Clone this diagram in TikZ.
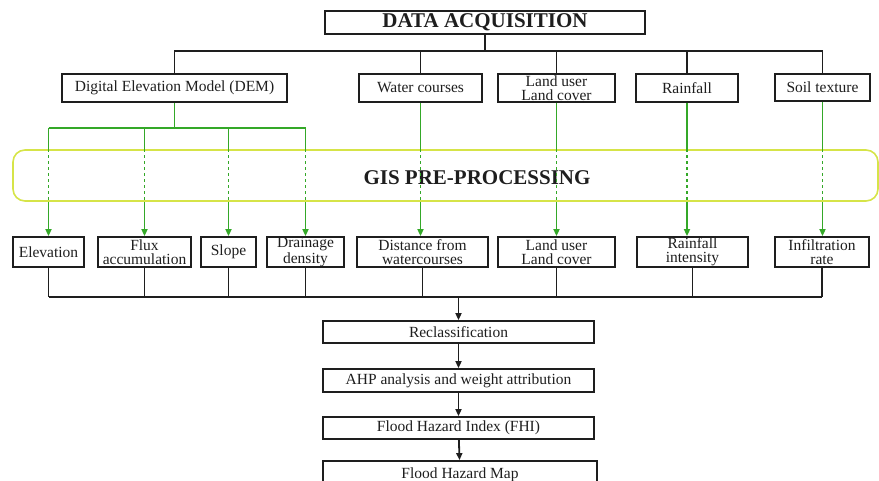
\documentclass[tikz,border=0pt]{standalone}
\usepackage{fontspec}
\setmainfont{Liberation Serif}
\usetikzlibrary{arrows.meta}
\definecolor{gisgreen}{RGB}{52,168,40}
\definecolor{gisframe}{RGB}{214,228,72}
\definecolor{ink}{RGB}{30,30,30}
\begin{document}
\begin{tikzpicture}[x=1pt, y=-1pt, line width=1.8pt,
  box/.style={draw=ink, text=ink, inner sep=0pt, align=center,
    font=\fontsize{15.5}{14}\selectfont},
  link/.style={draw=ink},
  flow/.style={draw=gisgreen, line width=1.8pt},
  >={Triangle[length=7pt,width=6pt]}]
\useasboundingbox (0,0) rectangle (879,481);
\clip (0,0) rectangle (879,481);

  % Draw GIS frame
  \node[draw=gisframe, line width=1.6pt, rounded corners=12pt, minimum width=865pt, minimum height=51pt] (gis) at (445.5,175.5) {};
  \node[text=ink, font=\fontsize{21}{21}\selectfont\bfseries] (gistext) at (477,178) {GIS PRE-PROCESSING};

  % Draw data sources
  \node[box, minimum width=320pt, minimum height=23pt, font=\fontsize{21}{21}\selectfont\bfseries] (acq) at (485,22.5) {DATA ACQUISITION};
  \node[box, minimum width=225pt, minimum height=28pt] (dem) at (174.5,88) {Digital Elevation Model (DEM)};
  \node[box, minimum width=123pt, minimum height=28pt] (water) at (420.5,88) {Water courses};
  \node[box, minimum width=117pt, minimum height=28pt] (landsrc) at (556.5,88) {Land user\\Land cover};
  \node[box, minimum width=102pt, minimum height=28pt] (rain) at (687,88) {Rainfall};
  \node[box, minimum width=95pt, minimum height=27pt] (soil) at (822.5,87.5) {Soil texture};

  % Draw factor maps
  \node[box, minimum width=71pt, minimum height=30pt] (elev) at (48.5,252) {Elevation};
  \node[box, minimum width=93pt, minimum height=30pt] (flux) at (144.5,252) {Flux\\accumulation};
  \node[box, minimum width=55pt, minimum height=30pt] (slope) at (228.5,252) {Slope};
  \node[box, minimum width=77pt, minimum height=30pt] (drain) at (305.5,252) {Drainage\\density};
  \node[box, minimum width=131pt, minimum height=30pt] (dist) at (422.5,252) {Distance from\\watercourses};
  \node[box, minimum width=117pt, minimum height=30pt] (landuse) at (556.5,252) {Land user\\Land cover};
  \node[box, minimum width=111pt, minimum height=30pt] (rainint) at (692.5,252) {Rainfall\\intensity};
  \node[box, minimum width=94pt, minimum height=30pt] (infil) at (822,252) {Infiltration\\rate};

  % Draw analysis steps
  \node[box, minimum width=271pt, minimum height=22pt] (reclass) at (458.5,332) {Reclassification};
  \node[box, minimum width=271pt, minimum height=23pt] (ahp) at (458.5,380.5) {AHP analysis and weight attribution};
  \node[box, minimum width=271pt, minimum height=22pt] (fhi) at (458.5,428) {Flood Hazard Index (FHI)};
  \node[box, minimum width=274pt, minimum height=27pt] (map) at (460,474.5) {Flood Hazard Map};

  % Draw acquisition tree
  \foreach \n in {dem,water,landsrc,rain,soil}
    \draw[link] (acq.south) -- ++(0,16) -| (\n.north);

  % Draw DEM derivatives
  \coordinate (gbus) at (0,128);
  \draw[flow] (dem.south) -- (dem.south |- gbus);
  \draw[flow] (elev.north |- gbus) -- (drain.north |- gbus);
  \foreach \n in {elev,flux,slope,drain} {
    \draw[flow] (\n.north |- gbus) -- (\n.north |- gis.north);
    \draw[flow, dash pattern=on 3pt off 3pt] (\n.north |- gis.north) -- (\n.north |- gis.south);
    \draw[flow, ->] (\n.north |- gis.south) -- (\n.north);
  }

  % Draw other sources
  \foreach \s/\t in {water/dist,landsrc/landuse,rain/rainint,soil/infil} {
    \draw[flow] (\s.south) -- (\s.south |- gis.north);
    \draw[flow, dash pattern=on 3pt off 3pt] (\s.south |- gis.north) -- (\s.south |- gis.south);
    \draw[flow, ->] (\s.south |- gis.south) -- (\s.south |- \t.north);
  }

  % Draw merge to reclassification
  \coordinate (bus) at (0,297);
  \foreach \n in {elev,flux,slope,drain,dist,landuse,rainint,infil}
    \draw[link] (\n.south) -- (\n.south |- bus);
  \draw[link] (elev.south |- bus) -- (infil.south |- bus);
  \draw[link, ->] (reclass.north |- bus) -- (reclass.north);

  % Draw steps
  \draw[link, ->] (reclass) -- (ahp);
  \draw[link, ->] (ahp) -- (fhi);
  \draw[link, ->] (fhi) -- (map);
\end{tikzpicture}
\end{document}
